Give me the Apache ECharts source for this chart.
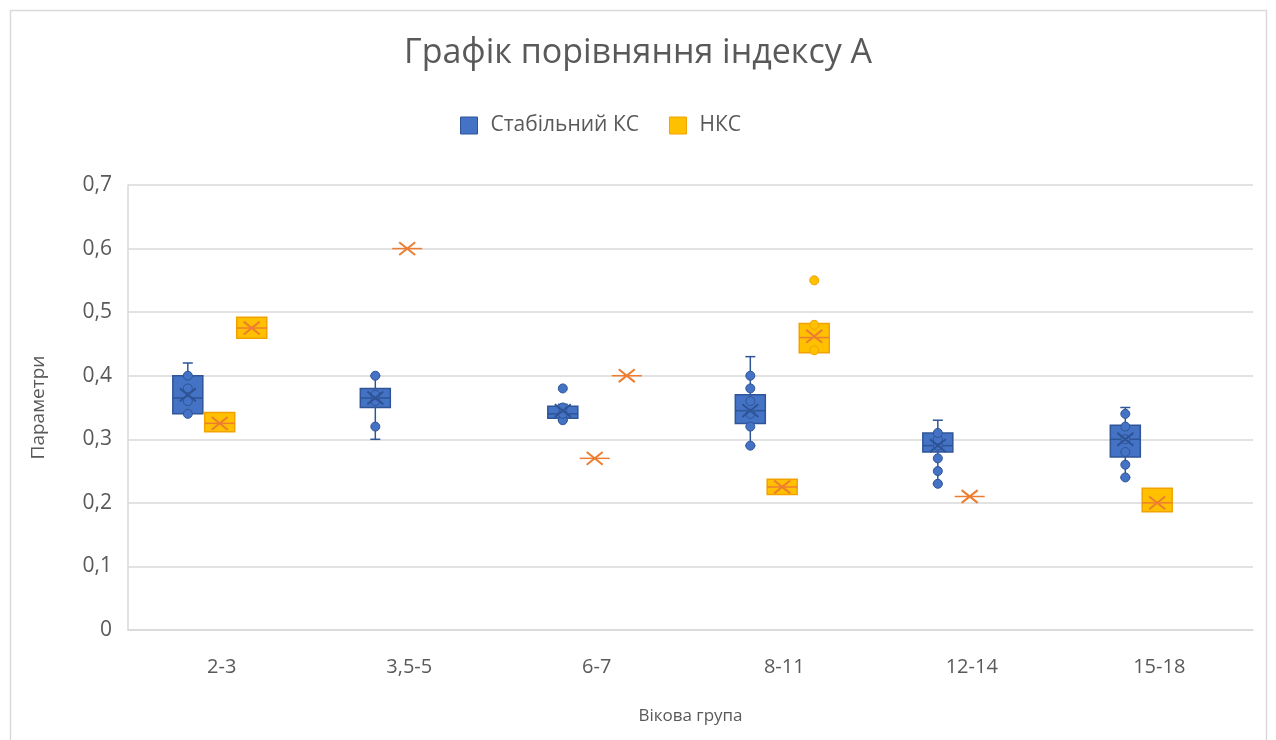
<!DOCTYPE html>
<html>
<head>
<meta charset="utf-8">
<script src="https://cdn.jsdelivr.net/npm/echarts@6/dist/echarts.min.js"></script>
<style>
  html, body { margin: 0; padding: 0; background: #fff; }
  #chart { width: 1276px; height: 740px; }
</style>
</head>
<body>
<div id="chart"></div>
<script>
// Age groups on the x axis
const categories = ['2-3', '3,5-5', '6-7', '8-11', '12-14', '15-18'];
const yTicks = [0, 0.1, 0.2, 0.3, 0.4, 0.5, 0.6, 0.7];

// Box statistics per age group: [min, Q1, median, Q3, max, mean]; null = no box
const stableKS = [
  [0.34, 0.34, 0.365, 0.40, 0.42, 0.37],
  [0.30, 0.35, 0.365, 0.38, 0.40, 0.365],
  [0.33, 0.333, 0.34, 0.352, 0.355, 0.345],
  [0.29, 0.325, 0.345, 0.37, 0.43, 0.345],
  [0.23, 0.28, 0.29, 0.31, 0.33, 0.29],
  [0.24, 0.272, 0.30, 0.322, 0.35, 0.30]
];
const nksA = [
  [0.312, 0.312, 0.325, 0.342, 0.342, 0.325],
  [0.60, 0.60, 0.60, 0.60, 0.60, 0.60],
  [0.27, 0.27, 0.27, 0.27, 0.27, 0.27],
  [0.213, 0.213, 0.225, 0.237, 0.237, 0.225],
  [0.21, 0.21, 0.21, 0.21, 0.21, 0.21],
  [0.186, 0.186, 0.20, 0.223, 0.223, 0.20]
];
const nksB = [
  [0.459, 0.459, 0.475, 0.492, 0.492, 0.475],
  null,
  [0.40, 0.40, 0.40, 0.40, 0.40, 0.40],
  [0.436, 0.436, 0.46, 0.482, 0.482, 0.462],
  null,
  null
];

// Individual observations drawn as dots (inner points and outliers)
const stablePoints = [
  [0.34, 0.36, 0.38, 0.40],
  [0.32, 0.36, 0.37, 0.40],
  [0.33, 0.34, 0.35, 0.38],
  [0.29, 0.32, 0.34, 0.36, 0.38, 0.40],
  [0.23, 0.25, 0.27, 0.29, 0.30, 0.31],
  [0.24, 0.26, 0.28, 0.30, 0.32, 0.34]
];
const nksPointsA = [[], [], [], [], [], []];
const nksPointsB = [[], [], [], [0.44, 0.48, 0.55], [], []];

const BLUE = { fill: '#4472C4', line: '#2F5597', mean: '#2E5395', median: '#2F5597' };
const ORANGE = { fill: '#FFC000', line: '#F2A200', mean: '#ED7D31', median: '#ED7D31' };

const BOX_FRAC = 0.16;   // box width as share of category band
const CAP_PX = 10;       // whisker cap width
const DOT_R = 4.5;       // observation dot radius
const MEAN_PX = 8;       // half-size of the mean cross

function toData(boxes) {
  const out = [];
  boxes.forEach((b, i) => { if (b) out.push([i].concat(b)); });
  return out;
}

function makeRender(offsetFrac, pal, pointsArr) {
  return function (params, api) {
    const ci = api.value(0);
    const band = api.size([1, 0])[0];
    const cx = api.coord([ci, 0])[0] + band * offsetFrac;
    const y = v => api.coord([ci, v])[1];
    const w = band * BOX_FRAC;
    const x0 = cx - w / 2;
    const vMin = api.value(1), q1 = api.value(2), med = api.value(3),
          q3 = api.value(4), vMax = api.value(5), mean = api.value(6);
    const lineStyle = { stroke: pal.line, lineWidth: 1.5 };
    const kids = [];
    // whiskers
    if (vMax > q3) {
      kids.push({ type: 'line', shape: { x1: cx, y1: y(q3), x2: cx, y2: y(vMax) }, style: lineStyle });
      kids.push({ type: 'line', shape: { x1: cx - CAP_PX / 2, y1: y(vMax), x2: cx + CAP_PX / 2, y2: y(vMax) }, style: lineStyle });
    }
    if (vMin < q1) {
      kids.push({ type: 'line', shape: { x1: cx, y1: y(q1), x2: cx, y2: y(vMin) }, style: lineStyle });
      kids.push({ type: 'line', shape: { x1: cx - CAP_PX / 2, y1: y(vMin), x2: cx + CAP_PX / 2, y2: y(vMin) }, style: lineStyle });
    }
    // box
    const top = y(q3), bot = y(q1);
    if (bot - top > 0.5) {
      kids.push({ type: 'rect', shape: { x: x0, y: top, width: w, height: bot - top },
        style: { fill: pal.fill, stroke: pal.line, lineWidth: 1.5 } });
    }
    // median
    kids.push({ type: 'line', shape: { x1: x0, y1: y(med), x2: x0 + w, y2: y(med) },
      style: { stroke: pal.median, lineWidth: 1.5 } });
    // observation dots
    (pointsArr[ci] || []).forEach(p => {
      kids.push({ type: 'circle', shape: { cx: cx, cy: y(p), r: DOT_R },
        style: { fill: pal.fill, stroke: pal.line, lineWidth: 1 } });
    });
    // mean cross
    const my = y(mean);
    const crossStyle = { stroke: pal.mean, lineWidth: 2 };
    kids.push({ type: 'line', shape: { x1: cx - MEAN_PX, y1: my - MEAN_PX * 0.8, x2: cx + MEAN_PX, y2: my + MEAN_PX * 0.8 }, style: crossStyle });
    kids.push({ type: 'line', shape: { x1: cx - MEAN_PX, y1: my + MEAN_PX * 0.8, x2: cx + MEAN_PX, y2: my - MEAN_PX * 0.8 }, style: crossStyle });
    return { type: 'group', children: kids };
  };
}

const FONT = 'Open Sans';
const chart = echarts.init(document.getElementById('chart'), null, { renderer: 'canvas' });

chart.setOption({
  backgroundColor: '#ffffff',
  animation: false,
  title: {
    text: 'Графік порівняння індексу А',
    left: 'center',
    top: 31,
    textStyle: { fontFamily: FONT, fontSize: 34, fontWeight: 'normal', color: '#595959' }
  },
  legend: {
    top: 110,
    left: 455,
    itemWidth: 17,
    itemHeight: 17,
    itemGap: 30,
    textStyle: { fontFamily: FONT, fontSize: 21, color: '#595959', padding: [0, 0, 0, 8] },
    data: [
      { name: 'Стабільний КС', icon: 'rect', itemStyle: { color: BLUE.fill, borderColor: BLUE.line, borderWidth: 1 } },
      { name: 'НКС', icon: 'rect', itemStyle: { color: ORANGE.fill, borderColor: ORANGE.line, borderWidth: 1 } }
    ]
  },
  graphic: [{
    type: 'rect',
    shape: { x: 10.5, y: 10.5, width: 1256, height: 760 },
    style: { fill: null, stroke: '#d9d9d9', lineWidth: 1.5 },
    silent: true,
    z: -1
  }],
  grid: { left: 128, right: 23, top: 185, bottom: 110 },
  xAxis: {
    type: 'category',
    data: categories,
    boundaryGap: true,
    name: 'Вікова група',
    nameLocation: 'middle',
    nameGap: 78,
    nameTextStyle: { fontFamily: FONT, fontSize: 17, color: '#595959' },
    axisLine: { show: true, lineStyle: { color: '#d9d9d9', width: 1.5 } },
    axisTick: { show: false },
    axisLabel: { margin: 27, fontFamily: FONT, fontSize: 20, color: '#595959' },
    splitLine: { show: false }
  },
  yAxis: {
    type: 'value',
    min: yTicks[0],
    max: yTicks[yTicks.length - 1],
    interval: 0.1,
    name: 'Параметри',
    nameLocation: 'middle',
    nameRotate: 90,
    nameGap: 80,
    nameTextStyle: { fontFamily: FONT, fontSize: 19, color: '#595959' },
    axisLine: { show: true, lineStyle: { color: '#d9d9d9', width: 1.5 } },
    axisTick: { show: false },
    axisLabel: {
      margin: 16,
      fontFamily: FONT,
      fontSize: 21,
      color: '#595959',
      formatter: v => (v === 0 ? '0' : v.toFixed(1).replace('.', ','))
    },
    splitLine: { show: true, lineStyle: { color: '#d9d9d9', width: 1.5 } }
  },
  series: [
    {
      name: 'Стабільний КС',
      type: 'custom',
      itemStyle: { color: BLUE.fill },
      renderItem: makeRender(-0.181, BLUE, stablePoints),
      encode: { x: 0, y: [1, 2, 3, 4, 5, 6] },
      data: toData(stableKS),
      z: 3
    },
    {
      name: 'НКС',
      type: 'custom',
      itemStyle: { color: ORANGE.fill },
      renderItem: makeRender(-0.011, ORANGE, nksPointsA),
      encode: { x: 0, y: [1, 2, 3, 4, 5, 6] },
      data: toData(nksA),
      z: 3
    },
    {
      name: 'НКС',
      type: 'custom',
      itemStyle: { color: ORANGE.fill },
      renderItem: makeRender(0.16, ORANGE, nksPointsB),
      encode: { x: 0, y: [1, 2, 3, 4, 5, 6] },
      data: toData(nksB),
      z: 3
    }
  ]
});
</script>
</body>
</html>
